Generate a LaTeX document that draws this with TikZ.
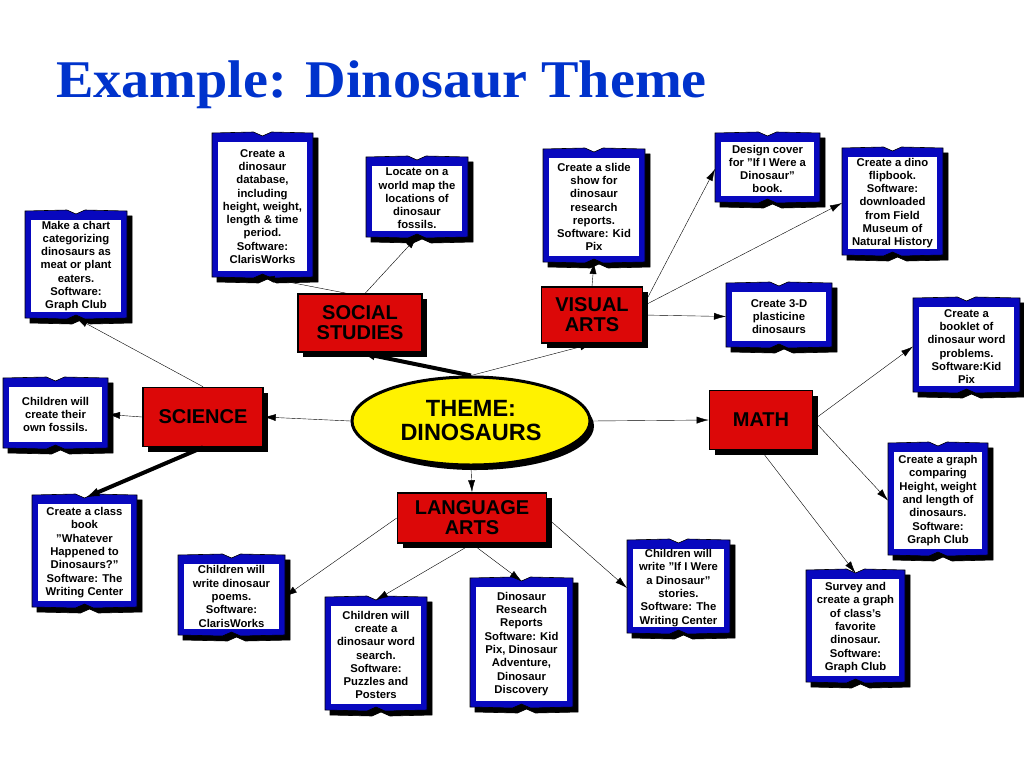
\documentclass[tikz,border=0pt]{standalone}
\usepackage{fontspec}
\setmainfont{Liberation Serif}
\setsansfont{Liberation Sans}
\usepackage{tikz}
\usetikzlibrary{arrows.meta,positioning,shapes.geometric,shadows,calc,backgrounds}
\definecolor{titleblue}{RGB}{0,51,204}
\definecolor{bookblue}{RGB}{8,8,190}
\definecolor{topicred}{RGB}{220,8,8}
\tikzset{
	treenode/.style = {align=center, inner sep=0pt, text centered,
		font=\sffamily\bfseries},
	topic_r/.style = {treenode, rectangle, fill=topicred, draw=black, line width=1.6pt,
		font=\sffamily\bfseries\fontsize{20}{20}\selectfont,
		drop shadow={shadow xshift=5pt, shadow yshift=-5pt, opacity=1, fill=black}},% matiere, boite rouge
	theme_y/.style = {treenode, ellipse, fill=yellow, draw=black, line width=3pt,
		font=\sffamily\bfseries\fontsize{23.5}{24}\selectfont,
		drop shadow={shadow xshift=4pt, shadow yshift=-5pt, opacity=1, fill=black}},% theme central
	book_b/.style = {treenode, rectangle, fill=white, outer sep=6pt,
		font=\sffamily\bfseries\fontsize{11.3}{13.3}\selectfont},% activite, livre bleu
	link_t/.style = {-{Latex[length=15pt,width=9pt]}, line width=4pt}
}

\begin{document}
\begin{tikzpicture}[x=1pt,y=-1pt,->,>={Latex[length=12pt,width=7pt]},line width=0.8pt]
\useasboundingbox (0,0) rectangle (1024,768);
\node [anchor=base, xscale=1.06, font=\rmfamily\bfseries\fontsize{53}{53}\selectfont, text=titleblue] (title) at (381.5,97) {Example: Dinosaur Theme};

% theme and subjects
\node [theme_y, minimum width=238pt, minimum height=88pt] (th) at (471,421) {THEME:\\DINOSAURS};
\node [topic_r, minimum width=124pt, minimum height=58pt] (ss) at (360,323) {SOCIAL\\STUDIES};
\node [topic_r, minimum width=101pt, minimum height=56pt] (va) at (592,315) {VISUAL\\ARTS};
\node [topic_r, minimum width=120pt, minimum height=59pt] (sc) at (203,417) {SCIENCE};
\node [topic_r, minimum width=103pt, minimum height=59pt] (ma) at (761,420) {MATH};
\node [topic_r, minimum width=149pt, minimum height=50pt] (la) at (472,518) {LANGUAGE\\ARTS};

% activities
\node [book_b, minimum width=90pt, minimum height=92pt] (b1) at (76,266) {Make a chart\\categorizing\\dinosaurs as\\meat or plant\\eaters.\\Software:\\Graph Club};
\node [book_b, minimum width=89pt, minimum height=129pt] (b2) at (262.5,206.5) {Create a\\dinosaur\\database,\\including\\height, weight,\\length \& time\\period.\\Software:\\ClarisWorks};
\node [book_b, minimum width=90pt, minimum height=65pt] (b3) at (417,198.5) {Locate on a\\world map the\\locations of\\dinosaur\\fossils.};
\node [book_b, minimum width=90pt, minimum height=98pt] (b4) at (594,207) {Create a slide\\show for\\dinosaur\\research\\reports.\\Software: Kid\\Pix};
\node [book_b, minimum width=93pt, minimum height=54pt] (b5) at (767.5,169) {Design cover\\for "If I Were a\\Dinosaur"\\book.};
\node [book_b, minimum width=89pt, minimum height=92pt] (b6) at (892.5,203) {Create a dino\\flipbook.\\Software:\\downloaded\\from Field\\Museum of\\Natural History};
\node [book_b, minimum width=94pt, minimum height=49pt] (b7) at (779,316.5) {Create 3-D\\plasticine\\dinosaurs};
\node [book_b, minimum width=95pt, minimum height=79pt] (b8) at (966.5,346.5) {Create a\\booklet of\\dinosaur word\\problems.\\Software:Kid\\Pix};
\node [book_b, minimum width=88pt, minimum height=97pt] (b9) at (938,500.5) {Create a graph\\comparing\\Height, weight\\and length of\\dinosaurs.\\Software:\\Graph Club};
\node [book_b, minimum width=87pt, minimum height=97pt] (b10) at (855.5,627.5) {Survey and\\create a graph\\of class's\\favorite\\dinosaur.\\Software:\\Graph Club};
\node [book_b, minimum width=91pt, minimum height=78pt] (b11) at (678.5,588) {Children will\\write "If I Were\\a Dinosaur"\\stories.\\Software: The\\Writing Center};
\node [book_b, minimum width=91pt, minimum height=114pt] (b12) at (521.5,644) {Dinosaur\\Research\\Reports\\Software: Kid\\Pix, Dinosaur\\Adventure,\\Dinosaur\\Discovery};
\node [book_b, minimum width=90pt, minimum height=98pt] (b13) at (376,655) {Children will\\create a\\dinosaur word\\search.\\Software:\\Puzzles and\\Posters};
\node [book_b, minimum width=95pt, minimum height=65pt] (b14) at (231.5,596.5) {Children will\\write dinosaur\\poems.\\Software:\\ClarisWorks};
\node [book_b, minimum width=93pt, minimum height=97pt] (b15) at (84.5,552.5) {Create a class\\book\\"Whatever\\Happened to\\Dinosaurs?"\\Software: The\\Writing Center};
\node [book_b, minimum width=93pt, minimum height=55pt] (b16) at (55.5,414.5) {Children will\\create their\\own fossils.};

% book covers behind the pages
\begin{pgfonlayer}{background}
\foreach \b in {b1,b2,b3,b4,b5,b6,b7,b8,b9,b10,b11,b12,b13,b14,b15,b16}
	\foreach \d/\c in {5/black,0/bookblue}
		\filldraw[-, fill=\c, draw=black, line width=0.6pt]
		($(\b.south west)+(\d,\d)$) -- ($(\b.north west)+(\d,\d-3)$)
		-- ($(\b.north)+(\d-9,\d-4)$) -- ($(\b.north)+(\d,\d)$) -- ($(\b.north)+(\d+9,\d-4)$)
		-- ($(\b.north east)+(\d,\d-3)$) -- ($(\b.south east)+(\d,\d)$)
		-- ($(\b.south)+(\d+9,\d+1)$) -- ($(\b.south)+(\d,\d-3)$) -- ($(\b.south)+(\d-9,\d+1)$) -- cycle;
\end{pgfonlayer}

% links
\draw [link_t] (th.north) -- (ss.south);
\draw (th.north) -- (va.south);
\draw (th.west) -- (sc.east);
\draw (th.east) -- (ma.west);
\draw (th.south) -- (la.north);
\draw (ss.115) -- (b2.south);
\draw (ss.80) -- (b3.south);
\draw (sc.north) -- (b1.south);
\draw (sc.west) -- (b16.east);
\draw [link_t] (sc.south) -- (b15.north);
\draw (va.north) -- (b4.south);
\draw (va.10) -- (b5.west);
\draw (va.10) -- (b6.west);
\draw (va.east) -- (b7.west);
\draw (ma.east) -- (b8.west);
\draw (ma.east) -- (b9.west);
\draw (ma.south) -- (b10.north);
\draw (la.west) -- (b14.east);
\draw (la.south) -- (b13.north);
\draw (la.south) -- (b12.north);
\draw (la.east) -- (b11.west);
\end{tikzpicture}
\end{document}
